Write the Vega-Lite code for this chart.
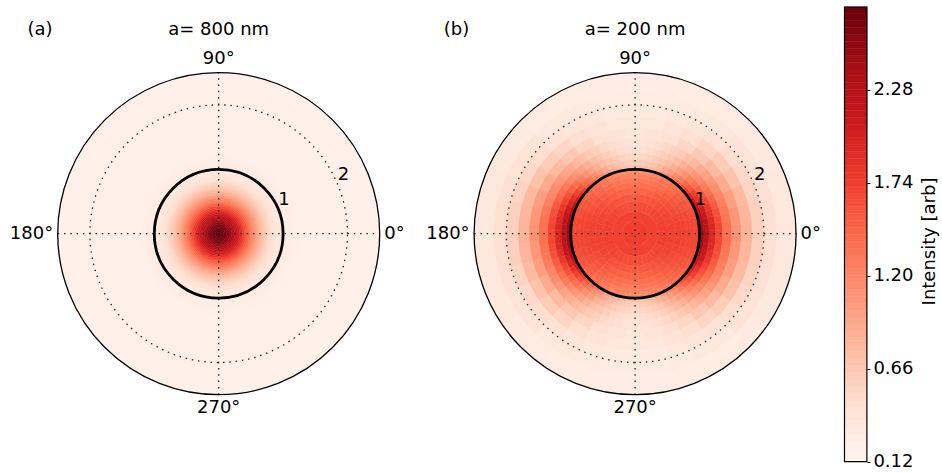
{
"$schema":"https://vega.github.io/schema/vega-lite/v6.json",
"background":"white",
"padding":{"left":9.7,"top":6,"right":0,"bottom":0},
"autosize":{"type":"pad"},
"config":{"font":"DejaVu Sans","view":{"stroke":null},"text":{"fontSize":18,"color":"#000","font":"DejaVu Sans"}},
"spacing":2.4,
"bounds":"flush",
"resolve":{"scale":{"x":"independent","y":"independent","theta":"independent","radius":"independent","color":"independent","stroke":"independent"}},
"datasets":{
"grid":[{"x":-2.5,"y":0,"x2":2.5,"y2":0},{"x":0,"y":-2.5,"x2":0,"y2":2.5}],
"circles":[{"r":1},{"r":2},{"r":2.5}],
"angles":[{"lab":"0°","t":0},{"lab":"90°","t":90},{"lab":"180°","t":180},{"lab":"270°","t":270}],
"rlab":[{"lab":"1","r":1},{"lab":"2","r":2}],
"heads":[{"p":"a","tag":"(a)","title":"a= 800 nm"},{"p":"b","tag":"(b)","title":"a= 200 nm"}],
"cbframe":[{"lo":0.12,"hi":2.76}],
"cb":[{"lo":0.12,"hi":0.16,"m":0.14},{"lo":0.16,"hi":0.2,"m":0.18},{"lo":0.2,"hi":0.24,"m":0.22},{"lo":0.24,"hi":0.28,"m":0.26},{"lo":0.28,"hi":0.32,"m":0.3},{"lo":0.32,"hi":0.36,"m":0.34},{"lo":0.36,"hi":0.4,"m":0.38},{"lo":0.4,"hi":0.44,"m":0.42},{"lo":0.44,"hi":0.48,"m":0.46},{"lo":0.48,"hi":0.52,"m":0.5},{"lo":0.52,"hi":0.56,"m":0.54},{"lo":0.56,"hi":0.6,"m":0.58},{"lo":0.6,"hi":0.64,"m":0.62},{"lo":0.64,"hi":0.68,"m":0.66},{"lo":0.68,"hi":0.72,"m":0.7},{"lo":0.72,"hi":0.76,"m":0.74},{"lo":0.76,"hi":0.8,"m":0.78},{"lo":0.8,"hi":0.84,"m":0.82},{"lo":0.84,"hi":0.88,"m":0.86},{"lo":0.88,"hi":0.92,"m":0.9},{"lo":0.92,"hi":0.96,"m":0.94},{"lo":0.96,"hi":1.0,"m":0.98},{"lo":1.0,"hi":1.04,"m":1.02},{"lo":1.04,"hi":1.08,"m":1.06},{"lo":1.08,"hi":1.12,"m":1.1},{"lo":1.12,"hi":1.16,"m":1.14},{"lo":1.16,"hi":1.2,"m":1.18},{"lo":1.2,"hi":1.24,"m":1.22},{"lo":1.24,"hi":1.28,"m":1.26},{"lo":1.28,"hi":1.32,"m":1.3},{"lo":1.32,"hi":1.36,"m":1.34},{"lo":1.36,"hi":1.4,"m":1.38},{"lo":1.4,"hi":1.44,"m":1.42},{"lo":1.44,"hi":1.48,"m":1.46},{"lo":1.48,"hi":1.52,"m":1.5},{"lo":1.52,"hi":1.56,"m":1.54},{"lo":1.56,"hi":1.6,"m":1.58},{"lo":1.6,"hi":1.64,"m":1.62},{"lo":1.64,"hi":1.68,"m":1.66},{"lo":1.68,"hi":1.72,"m":1.7},{"lo":1.72,"hi":1.76,"m":1.74},{"lo":1.76,"hi":1.8,"m":1.78},{"lo":1.8,"hi":1.84,"m":1.82},{"lo":1.84,"hi":1.88,"m":1.86},{"lo":1.88,"hi":1.92,"m":1.9},{"lo":1.92,"hi":1.96,"m":1.94},{"lo":1.96,"hi":2.0,"m":1.98},{"lo":2.0,"hi":2.04,"m":2.02},{"lo":2.04,"hi":2.08,"m":2.06},{"lo":2.08,"hi":2.12,"m":2.1},{"lo":2.12,"hi":2.16,"m":2.14},{"lo":2.16,"hi":2.2,"m":2.18},{"lo":2.2,"hi":2.24,"m":2.22},{"lo":2.24,"hi":2.28,"m":2.26},{"lo":2.28,"hi":2.32,"m":2.3},{"lo":2.32,"hi":2.36,"m":2.34},{"lo":2.36,"hi":2.4,"m":2.38},{"lo":2.4,"hi":2.44,"m":2.42},{"lo":2.44,"hi":2.48,"m":2.46},{"lo":2.48,"hi":2.52,"m":2.5},{"lo":2.52,"hi":2.56,"m":2.54},{"lo":2.56,"hi":2.6,"m":2.58},{"lo":2.6,"hi":2.64,"m":2.62},{"lo":2.64,"hi":2.68,"m":2.66},{"lo":2.68,"hi":2.72,"m":2.7},{"lo":2.72,"hi":2.76,"m":2.74}],
"pa":[{"a":0,"b":360,"r":0,"s":0.025,"v":2.76},{"a":0,"b":360,"r":0.025,"s":0.05,"v":2.75},{"a":0,"b":360,"r":0.05,"s":0.075,"v":2.73},{"a":0,"b":360,"r":0.075,"s":0.1,"v":2.70},{"a":0,"b":360,"r":0.1,"s":0.125,"v":2.66},{"a":0,"b":360,"r":0.125,"s":0.15,"v":2.60},{"a":0,"b":360,"r":0.15,"s":0.175,"v":2.55},{"a":0,"b":360,"r":0.175,"s":0.2,"v":2.48},{"a":0,"b":360,"r":0.2,"s":0.225,"v":2.40},{"a":0,"b":360,"r":0.225,"s":0.25,"v":2.32},{"a":0,"b":360,"r":0.25,"s":0.275,"v":2.24},{"a":0,"b":360,"r":0.275,"s":0.3,"v":2.15},{"a":0,"b":360,"r":0.3,"s":0.325,"v":2.05},{"a":0,"b":360,"r":0.325,"s":0.35,"v":1.96},{"a":0,"b":360,"r":0.35,"s":0.375,"v":1.86},{"a":0,"b":360,"r":0.375,"s":0.4,"v":1.76},{"a":0,"b":360,"r":0.4,"s":0.425,"v":1.66},{"a":0,"b":360,"r":0.425,"s":0.45,"v":1.56},{"a":0,"b":360,"r":0.45,"s":0.475,"v":1.46},{"a":0,"b":360,"r":0.475,"s":0.5,"v":1.37},{"a":0,"b":360,"r":0.5,"s":0.525,"v":1.27},{"a":0,"b":360,"r":0.525,"s":0.55,"v":1.19},{"a":0,"b":360,"r":0.55,"s":0.575,"v":1.10},{"a":0,"b":360,"r":0.575,"s":0.6,"v":1.02},{"a":0,"b":360,"r":0.6,"s":0.625,"v":0.94},{"a":0,"b":360,"r":0.625,"s":0.65,"v":0.87},{"a":0,"b":360,"r":0.65,"s":0.675,"v":0.80},{"a":0,"b":360,"r":0.675,"s":0.7,"v":0.74},{"a":0,"b":360,"r":0.7,"s":0.725,"v":0.68},{"a":0,"b":360,"r":0.725,"s":0.75,"v":0.62},{"a":0,"b":360,"r":0.75,"s":0.775,"v":0.57},{"a":0,"b":360,"r":0.775,"s":0.8,"v":0.53},{"a":0,"b":360,"r":0.8,"s":0.825,"v":0.49},{"a":0,"b":360,"r":0.825,"s":0.85,"v":0.45},{"a":0,"b":360,"r":0.85,"s":0.875,"v":0.42},{"a":0,"b":360,"r":0.875,"s":0.9,"v":0.39},{"a":0,"b":360,"r":0.9,"s":0.925,"v":0.36},{"a":0,"b":360,"r":0.925,"s":0.95,"v":0.34},{"a":0,"b":360,"r":0.95,"s":0.975,"v":0.32},{"a":0,"b":360,"r":0.975,"s":1.0,"v":0.30},{"a":0,"b":360,"r":1.0,"s":1.05,"v":0.28},{"a":0,"b":360,"r":1.05,"s":1.1,"v":0.26},{"a":0,"b":360,"r":1.1,"s":1.15,"v":0.24},{"a":0,"b":360,"r":1.15,"s":1.2,"v":0.23},{"a":0,"b":360,"r":1.2,"s":1.3,"v":0.21},{"a":0,"b":360,"r":1.3,"s":2.5,"v":0.20}],
"pb":[
{"a":0,"b":360,"r":0,"s":0.2,"v":1.74},{"a":0,"b":360,"r":0.2,"s":0.35,"v":1.72},
{"a":-5,"b":5,"r":0.35,"s":0.5,"v":1.74},{"a":5,"b":15,"r":0.35,"s":0.5,"v":1.74},{"a":15,"b":25,"r":0.35,"s":0.5,"v":1.73},{"a":25,"b":35,"r":0.35,"s":0.5,"v":1.71},{"a":35,"b":45,"r":0.35,"s":0.5,"v":1.70},{"a":45,"b":55,"r":0.35,"s":0.5,"v":1.68},{"a":55,"b":65,"r":0.35,"s":0.5,"v":1.66},{"a":65,"b":75,"r":0.35,"s":0.5,"v":1.64},{"a":75,"b":85,"r":0.35,"s":0.5,"v":1.64},{"a":85,"b":95,"r":0.35,"s":0.5,"v":1.63},{"a":95,"b":105,"r":0.35,"s":0.5,"v":1.64},{"a":105,"b":115,"r":0.35,"s":0.5,"v":1.64},{"a":115,"b":125,"r":0.35,"s":0.5,"v":1.66},{"a":125,"b":135,"r":0.35,"s":0.5,"v":1.68},{"a":135,"b":145,"r":0.35,"s":0.5,"v":1.70},{"a":145,"b":155,"r":0.35,"s":0.5,"v":1.71},{"a":155,"b":165,"r":0.35,"s":0.5,"v":1.73},{"a":165,"b":175,"r":0.35,"s":0.5,"v":1.74},{"a":175,"b":185,"r":0.35,"s":0.5,"v":1.74},{"a":185,"b":195,"r":0.35,"s":0.5,"v":1.74},{"a":195,"b":205,"r":0.35,"s":0.5,"v":1.73},{"a":205,"b":215,"r":0.35,"s":0.5,"v":1.71},{"a":215,"b":225,"r":0.35,"s":0.5,"v":1.70},{"a":225,"b":235,"r":0.35,"s":0.5,"v":1.68},{"a":235,"b":245,"r":0.35,"s":0.5,"v":1.66},{"a":245,"b":255,"r":0.35,"s":0.5,"v":1.64},{"a":255,"b":265,"r":0.35,"s":0.5,"v":1.64},{"a":265,"b":275,"r":0.35,"s":0.5,"v":1.63},{"a":275,"b":285,"r":0.35,"s":0.5,"v":1.64},{"a":285,"b":295,"r":0.35,"s":0.5,"v":1.64},{"a":295,"b":305,"r":0.35,"s":0.5,"v":1.66},{"a":305,"b":315,"r":0.35,"s":0.5,"v":1.68},{"a":315,"b":325,"r":0.35,"s":0.5,"v":1.70},{"a":325,"b":335,"r":0.35,"s":0.5,"v":1.71},{"a":335,"b":345,"r":0.35,"s":0.5,"v":1.73},{"a":345,"b":355,"r":0.35,"s":0.5,"v":1.74},
{"a":-5,"b":5,"r":0.5,"s":0.62,"v":1.73},{"a":5,"b":15,"r":0.5,"s":0.62,"v":1.73},{"a":15,"b":25,"r":0.5,"s":0.62,"v":1.71},{"a":25,"b":35,"r":0.5,"s":0.62,"v":1.69},{"a":35,"b":45,"r":0.5,"s":0.62,"v":1.66},{"a":45,"b":55,"r":0.5,"s":0.62,"v":1.62},{"a":55,"b":65,"r":0.5,"s":0.62,"v":1.59},{"a":65,"b":75,"r":0.5,"s":0.62,"v":1.57},{"a":75,"b":85,"r":0.5,"s":0.62,"v":1.55},{"a":85,"b":95,"r":0.5,"s":0.62,"v":1.55},{"a":95,"b":105,"r":0.5,"s":0.62,"v":1.55},{"a":105,"b":115,"r":0.5,"s":0.62,"v":1.57},{"a":115,"b":125,"r":0.5,"s":0.62,"v":1.59},{"a":125,"b":135,"r":0.5,"s":0.62,"v":1.62},{"a":135,"b":145,"r":0.5,"s":0.62,"v":1.66},{"a":145,"b":155,"r":0.5,"s":0.62,"v":1.69},{"a":155,"b":165,"r":0.5,"s":0.62,"v":1.71},{"a":165,"b":175,"r":0.5,"s":0.62,"v":1.73},{"a":175,"b":185,"r":0.5,"s":0.62,"v":1.73},{"a":185,"b":195,"r":0.5,"s":0.62,"v":1.73},{"a":195,"b":205,"r":0.5,"s":0.62,"v":1.71},{"a":205,"b":215,"r":0.5,"s":0.62,"v":1.69},{"a":215,"b":225,"r":0.5,"s":0.62,"v":1.66},{"a":225,"b":235,"r":0.5,"s":0.62,"v":1.62},{"a":235,"b":245,"r":0.5,"s":0.62,"v":1.59},{"a":245,"b":255,"r":0.5,"s":0.62,"v":1.57},{"a":255,"b":265,"r":0.5,"s":0.62,"v":1.55},{"a":265,"b":275,"r":0.5,"s":0.62,"v":1.55},{"a":275,"b":285,"r":0.5,"s":0.62,"v":1.55},{"a":285,"b":295,"r":0.5,"s":0.62,"v":1.57},{"a":295,"b":305,"r":0.5,"s":0.62,"v":1.59},{"a":305,"b":315,"r":0.5,"s":0.62,"v":1.62},{"a":315,"b":325,"r":0.5,"s":0.62,"v":1.66},{"a":325,"b":335,"r":0.5,"s":0.62,"v":1.69},{"a":335,"b":345,"r":0.5,"s":0.62,"v":1.71},{"a":345,"b":355,"r":0.5,"s":0.62,"v":1.73},
{"a":-5,"b":5,"r":0.62,"s":0.72,"v":1.73},{"a":5,"b":15,"r":0.62,"s":0.72,"v":1.72},{"a":15,"b":25,"r":0.62,"s":0.72,"v":1.70},{"a":25,"b":35,"r":0.62,"s":0.72,"v":1.66},{"a":35,"b":45,"r":0.62,"s":0.72,"v":1.62},{"a":45,"b":55,"r":0.62,"s":0.72,"v":1.57},{"a":55,"b":65,"r":0.62,"s":0.72,"v":1.53},{"a":65,"b":75,"r":0.62,"s":0.72,"v":1.49},{"a":75,"b":85,"r":0.62,"s":0.72,"v":1.47},{"a":85,"b":95,"r":0.62,"s":0.72,"v":1.46},{"a":95,"b":105,"r":0.62,"s":0.72,"v":1.47},{"a":105,"b":115,"r":0.62,"s":0.72,"v":1.49},{"a":115,"b":125,"r":0.62,"s":0.72,"v":1.53},{"a":125,"b":135,"r":0.62,"s":0.72,"v":1.57},{"a":135,"b":145,"r":0.62,"s":0.72,"v":1.62},{"a":145,"b":155,"r":0.62,"s":0.72,"v":1.66},{"a":155,"b":165,"r":0.62,"s":0.72,"v":1.70},{"a":165,"b":175,"r":0.62,"s":0.72,"v":1.72},{"a":175,"b":185,"r":0.62,"s":0.72,"v":1.73},{"a":185,"b":195,"r":0.62,"s":0.72,"v":1.72},{"a":195,"b":205,"r":0.62,"s":0.72,"v":1.70},{"a":205,"b":215,"r":0.62,"s":0.72,"v":1.66},{"a":215,"b":225,"r":0.62,"s":0.72,"v":1.62},{"a":225,"b":235,"r":0.62,"s":0.72,"v":1.57},{"a":235,"b":245,"r":0.62,"s":0.72,"v":1.53},{"a":245,"b":255,"r":0.62,"s":0.72,"v":1.49},{"a":255,"b":265,"r":0.62,"s":0.72,"v":1.47},{"a":265,"b":275,"r":0.62,"s":0.72,"v":1.46},{"a":275,"b":285,"r":0.62,"s":0.72,"v":1.47},{"a":285,"b":295,"r":0.62,"s":0.72,"v":1.49},{"a":295,"b":305,"r":0.62,"s":0.72,"v":1.53},{"a":305,"b":315,"r":0.62,"s":0.72,"v":1.57},{"a":315,"b":325,"r":0.62,"s":0.72,"v":1.62},{"a":325,"b":335,"r":0.62,"s":0.72,"v":1.66},{"a":335,"b":345,"r":0.62,"s":0.72,"v":1.70},{"a":345,"b":355,"r":0.62,"s":0.72,"v":1.72},
{"a":-5,"b":5,"r":0.72,"s":0.8,"v":1.72},{"a":5,"b":15,"r":0.72,"s":0.8,"v":1.71},{"a":15,"b":25,"r":0.72,"s":0.8,"v":1.68},{"a":25,"b":35,"r":0.72,"s":0.8,"v":1.63},{"a":35,"b":45,"r":0.72,"s":0.8,"v":1.58},{"a":45,"b":55,"r":0.72,"s":0.8,"v":1.52},{"a":55,"b":65,"r":0.72,"s":0.8,"v":1.46},{"a":65,"b":75,"r":0.72,"s":0.8,"v":1.41},{"a":75,"b":85,"r":0.72,"s":0.8,"v":1.38},{"a":85,"b":95,"r":0.72,"s":0.8,"v":1.37},{"a":95,"b":105,"r":0.72,"s":0.8,"v":1.38},{"a":105,"b":115,"r":0.72,"s":0.8,"v":1.41},{"a":115,"b":125,"r":0.72,"s":0.8,"v":1.46},{"a":125,"b":135,"r":0.72,"s":0.8,"v":1.52},{"a":135,"b":145,"r":0.72,"s":0.8,"v":1.58},{"a":145,"b":155,"r":0.72,"s":0.8,"v":1.63},{"a":155,"b":165,"r":0.72,"s":0.8,"v":1.68},{"a":165,"b":175,"r":0.72,"s":0.8,"v":1.71},{"a":175,"b":185,"r":0.72,"s":0.8,"v":1.72},{"a":185,"b":195,"r":0.72,"s":0.8,"v":1.71},{"a":195,"b":205,"r":0.72,"s":0.8,"v":1.68},{"a":205,"b":215,"r":0.72,"s":0.8,"v":1.63},{"a":215,"b":225,"r":0.72,"s":0.8,"v":1.58},{"a":225,"b":235,"r":0.72,"s":0.8,"v":1.52},{"a":235,"b":245,"r":0.72,"s":0.8,"v":1.46},{"a":245,"b":255,"r":0.72,"s":0.8,"v":1.41},{"a":255,"b":265,"r":0.72,"s":0.8,"v":1.38},{"a":265,"b":275,"r":0.72,"s":0.8,"v":1.37},{"a":275,"b":285,"r":0.72,"s":0.8,"v":1.38},{"a":285,"b":295,"r":0.72,"s":0.8,"v":1.41},{"a":295,"b":305,"r":0.72,"s":0.8,"v":1.46},{"a":305,"b":315,"r":0.72,"s":0.8,"v":1.52},{"a":315,"b":325,"r":0.72,"s":0.8,"v":1.58},{"a":325,"b":335,"r":0.72,"s":0.8,"v":1.63},{"a":335,"b":345,"r":0.72,"s":0.8,"v":1.68},{"a":345,"b":355,"r":0.72,"s":0.8,"v":1.71},
{"a":-5,"b":5,"r":0.8,"s":0.87,"v":1.72},{"a":5,"b":15,"r":0.8,"s":0.87,"v":1.70},{"a":15,"b":25,"r":0.8,"s":0.87,"v":1.67},{"a":25,"b":35,"r":0.8,"s":0.87,"v":1.61},{"a":35,"b":45,"r":0.8,"s":0.87,"v":1.54},{"a":45,"b":55,"r":0.8,"s":0.87,"v":1.47},{"a":55,"b":65,"r":0.8,"s":0.87,"v":1.40},{"a":65,"b":75,"r":0.8,"s":0.87,"v":1.35},{"a":75,"b":85,"r":0.8,"s":0.87,"v":1.31},{"a":85,"b":95,"r":0.8,"s":0.87,"v":1.30},{"a":95,"b":105,"r":0.8,"s":0.87,"v":1.31},{"a":105,"b":115,"r":0.8,"s":0.87,"v":1.35},{"a":115,"b":125,"r":0.8,"s":0.87,"v":1.40},{"a":125,"b":135,"r":0.8,"s":0.87,"v":1.47},{"a":135,"b":145,"r":0.8,"s":0.87,"v":1.54},{"a":145,"b":155,"r":0.8,"s":0.87,"v":1.61},{"a":155,"b":165,"r":0.8,"s":0.87,"v":1.67},{"a":165,"b":175,"r":0.8,"s":0.87,"v":1.70},{"a":175,"b":185,"r":0.8,"s":0.87,"v":1.72},{"a":185,"b":195,"r":0.8,"s":0.87,"v":1.70},{"a":195,"b":205,"r":0.8,"s":0.87,"v":1.67},{"a":205,"b":215,"r":0.8,"s":0.87,"v":1.61},{"a":215,"b":225,"r":0.8,"s":0.87,"v":1.54},{"a":225,"b":235,"r":0.8,"s":0.87,"v":1.47},{"a":235,"b":245,"r":0.8,"s":0.87,"v":1.40},{"a":245,"b":255,"r":0.8,"s":0.87,"v":1.35},{"a":255,"b":265,"r":0.8,"s":0.87,"v":1.31},{"a":265,"b":275,"r":0.8,"s":0.87,"v":1.30},{"a":275,"b":285,"r":0.8,"s":0.87,"v":1.31},{"a":285,"b":295,"r":0.8,"s":0.87,"v":1.35},{"a":295,"b":305,"r":0.8,"s":0.87,"v":1.40},{"a":305,"b":315,"r":0.8,"s":0.87,"v":1.47},{"a":315,"b":325,"r":0.8,"s":0.87,"v":1.54},{"a":325,"b":335,"r":0.8,"s":0.87,"v":1.61},{"a":335,"b":345,"r":0.8,"s":0.87,"v":1.67},{"a":345,"b":355,"r":0.8,"s":0.87,"v":1.70},
{"a":-5,"b":5,"r":0.87,"s":0.93,"v":1.71},{"a":5,"b":15,"r":0.87,"s":0.93,"v":1.70},{"a":15,"b":25,"r":0.87,"s":0.93,"v":1.65},{"a":25,"b":35,"r":0.87,"s":0.93,"v":1.59},{"a":35,"b":45,"r":0.87,"s":0.93,"v":1.51},{"a":45,"b":55,"r":0.87,"s":0.93,"v":1.43},{"a":55,"b":65,"r":0.87,"s":0.93,"v":1.35},{"a":65,"b":75,"r":0.87,"s":0.93,"v":1.28},{"a":75,"b":85,"r":0.87,"s":0.93,"v":1.24},{"a":85,"b":95,"r":0.87,"s":0.93,"v":1.22},{"a":95,"b":105,"r":0.87,"s":0.93,"v":1.24},{"a":105,"b":115,"r":0.87,"s":0.93,"v":1.28},{"a":115,"b":125,"r":0.87,"s":0.93,"v":1.35},{"a":125,"b":135,"r":0.87,"s":0.93,"v":1.43},{"a":135,"b":145,"r":0.87,"s":0.93,"v":1.51},{"a":145,"b":155,"r":0.87,"s":0.93,"v":1.59},{"a":155,"b":165,"r":0.87,"s":0.93,"v":1.65},{"a":165,"b":175,"r":0.87,"s":0.93,"v":1.70},{"a":175,"b":185,"r":0.87,"s":0.93,"v":1.71},{"a":185,"b":195,"r":0.87,"s":0.93,"v":1.70},{"a":195,"b":205,"r":0.87,"s":0.93,"v":1.65},{"a":205,"b":215,"r":0.87,"s":0.93,"v":1.59},{"a":215,"b":225,"r":0.87,"s":0.93,"v":1.51},{"a":225,"b":235,"r":0.87,"s":0.93,"v":1.43},{"a":235,"b":245,"r":0.87,"s":0.93,"v":1.35},{"a":245,"b":255,"r":0.87,"s":0.93,"v":1.28},{"a":255,"b":265,"r":0.87,"s":0.93,"v":1.24},{"a":265,"b":275,"r":0.87,"s":0.93,"v":1.22},{"a":275,"b":285,"r":0.87,"s":0.93,"v":1.24},{"a":285,"b":295,"r":0.87,"s":0.93,"v":1.28},{"a":295,"b":305,"r":0.87,"s":0.93,"v":1.35},{"a":305,"b":315,"r":0.87,"s":0.93,"v":1.43},{"a":315,"b":325,"r":0.87,"s":0.93,"v":1.51},{"a":325,"b":335,"r":0.87,"s":0.93,"v":1.59},{"a":335,"b":345,"r":0.87,"s":0.93,"v":1.65},{"a":345,"b":355,"r":0.87,"s":0.93,"v":1.70},
{"a":-5,"b":5,"r":0.93,"s":1.0,"v":1.70},{"a":5,"b":15,"r":0.93,"s":1.0,"v":1.69},{"a":15,"b":25,"r":0.93,"s":1.0,"v":1.64},{"a":25,"b":35,"r":0.93,"s":1.0,"v":1.56},{"a":35,"b":45,"r":0.93,"s":1.0,"v":1.47},{"a":45,"b":55,"r":0.93,"s":1.0,"v":1.38},{"a":55,"b":65,"r":0.93,"s":1.0,"v":1.29},{"a":65,"b":75,"r":0.93,"s":1.0,"v":1.21},{"a":75,"b":85,"r":0.93,"s":1.0,"v":1.16},{"a":85,"b":95,"r":0.93,"s":1.0,"v":1.15},{"a":95,"b":105,"r":0.93,"s":1.0,"v":1.16},{"a":105,"b":115,"r":0.93,"s":1.0,"v":1.21},{"a":115,"b":125,"r":0.93,"s":1.0,"v":1.29},{"a":125,"b":135,"r":0.93,"s":1.0,"v":1.38},{"a":135,"b":145,"r":0.93,"s":1.0,"v":1.47},{"a":145,"b":155,"r":0.93,"s":1.0,"v":1.56},{"a":155,"b":165,"r":0.93,"s":1.0,"v":1.64},{"a":165,"b":175,"r":0.93,"s":1.0,"v":1.69},{"a":175,"b":185,"r":0.93,"s":1.0,"v":1.70},{"a":185,"b":195,"r":0.93,"s":1.0,"v":1.69},{"a":195,"b":205,"r":0.93,"s":1.0,"v":1.64},{"a":205,"b":215,"r":0.93,"s":1.0,"v":1.56},{"a":215,"b":225,"r":0.93,"s":1.0,"v":1.47},{"a":225,"b":235,"r":0.93,"s":1.0,"v":1.38},{"a":235,"b":245,"r":0.93,"s":1.0,"v":1.29},{"a":245,"b":255,"r":0.93,"s":1.0,"v":1.21},{"a":255,"b":265,"r":0.93,"s":1.0,"v":1.16},{"a":265,"b":275,"r":0.93,"s":1.0,"v":1.15},{"a":275,"b":285,"r":0.93,"s":1.0,"v":1.16},{"a":285,"b":295,"r":0.93,"s":1.0,"v":1.21},{"a":295,"b":305,"r":0.93,"s":1.0,"v":1.29},{"a":305,"b":315,"r":0.93,"s":1.0,"v":1.38},{"a":315,"b":325,"r":0.93,"s":1.0,"v":1.47},{"a":325,"b":335,"r":0.93,"s":1.0,"v":1.56},{"a":335,"b":345,"r":0.93,"s":1.0,"v":1.64},{"a":345,"b":355,"r":0.93,"s":1.0,"v":1.69},
{"a":-2.5,"b":2.5,"r":1.0,"s":1.07,"v":2.51},{"a":2.5,"b":7.5,"r":1.0,"s":1.07,"v":2.50},{"a":7.5,"b":12.5,"r":1.0,"s":1.07,"v":2.46},{"a":12.5,"b":17.5,"r":1.0,"s":1.07,"v":2.39},{"a":17.5,"b":22.5,"r":1.0,"s":1.07,"v":2.30},{"a":22.5,"b":27.5,"r":1.0,"s":1.07,"v":2.18},{"a":27.5,"b":32.5,"r":1.0,"s":1.07,"v":2.06},{"a":32.5,"b":37.5,"r":1.0,"s":1.07,"v":1.91},{"a":37.5,"b":42.5,"r":1.0,"s":1.07,"v":1.76},{"a":42.5,"b":47.5,"r":1.0,"s":1.07,"v":1.60},{"a":47.5,"b":52.5,"r":1.0,"s":1.07,"v":1.44},{"a":52.5,"b":57.5,"r":1.0,"s":1.07,"v":1.29},{"a":57.5,"b":62.5,"r":1.0,"s":1.07,"v":1.15},{"a":62.5,"b":67.5,"r":1.0,"s":1.07,"v":1.02},{"a":67.5,"b":72.5,"r":1.0,"s":1.07,"v":0.90},{"a":72.5,"b":77.5,"r":1.0,"s":1.07,"v":0.81},{"a":77.5,"b":82.5,"r":1.0,"s":1.07,"v":0.75},{"a":82.5,"b":87.5,"r":1.0,"s":1.07,"v":0.70},{"a":87.5,"b":92.5,"r":1.0,"s":1.07,"v":0.69},{"a":92.5,"b":97.5,"r":1.0,"s":1.07,"v":0.70},{"a":97.5,"b":102.5,"r":1.0,"s":1.07,"v":0.75},{"a":102.5,"b":107.5,"r":1.0,"s":1.07,"v":0.81},{"a":107.5,"b":112.5,"r":1.0,"s":1.07,"v":0.90},{"a":112.5,"b":117.5,"r":1.0,"s":1.07,"v":1.02},{"a":117.5,"b":122.5,"r":1.0,"s":1.07,"v":1.15},{"a":122.5,"b":127.5,"r":1.0,"s":1.07,"v":1.29},{"a":127.5,"b":132.5,"r":1.0,"s":1.07,"v":1.44},{"a":132.5,"b":137.5,"r":1.0,"s":1.07,"v":1.60},{"a":137.5,"b":142.5,"r":1.0,"s":1.07,"v":1.76},{"a":142.5,"b":147.5,"r":1.0,"s":1.07,"v":1.91},{"a":147.5,"b":152.5,"r":1.0,"s":1.07,"v":2.06},{"a":152.5,"b":157.5,"r":1.0,"s":1.07,"v":2.18},{"a":157.5,"b":162.5,"r":1.0,"s":1.07,"v":2.30},{"a":162.5,"b":167.5,"r":1.0,"s":1.07,"v":2.39},{"a":167.5,"b":172.5,"r":1.0,"s":1.07,"v":2.46},{"a":172.5,"b":177.5,"r":1.0,"s":1.07,"v":2.50},{"a":177.5,"b":182.5,"r":1.0,"s":1.07,"v":2.51},{"a":182.5,"b":187.5,"r":1.0,"s":1.07,"v":2.50},{"a":187.5,"b":192.5,"r":1.0,"s":1.07,"v":2.46},{"a":192.5,"b":197.5,"r":1.0,"s":1.07,"v":2.39},{"a":197.5,"b":202.5,"r":1.0,"s":1.07,"v":2.30},{"a":202.5,"b":207.5,"r":1.0,"s":1.07,"v":2.18},{"a":207.5,"b":212.5,"r":1.0,"s":1.07,"v":2.06},{"a":212.5,"b":217.5,"r":1.0,"s":1.07,"v":1.91},{"a":217.5,"b":222.5,"r":1.0,"s":1.07,"v":1.76},{"a":222.5,"b":227.5,"r":1.0,"s":1.07,"v":1.60},{"a":227.5,"b":232.5,"r":1.0,"s":1.07,"v":1.44},{"a":232.5,"b":237.5,"r":1.0,"s":1.07,"v":1.29},{"a":237.5,"b":242.5,"r":1.0,"s":1.07,"v":1.15},{"a":242.5,"b":247.5,"r":1.0,"s":1.07,"v":1.02},{"a":247.5,"b":252.5,"r":1.0,"s":1.07,"v":0.90},{"a":252.5,"b":257.5,"r":1.0,"s":1.07,"v":0.81},{"a":257.5,"b":262.5,"r":1.0,"s":1.07,"v":0.75},{"a":262.5,"b":267.5,"r":1.0,"s":1.07,"v":0.70},{"a":267.5,"b":272.5,"r":1.0,"s":1.07,"v":0.69},{"a":272.5,"b":277.5,"r":1.0,"s":1.07,"v":0.70},{"a":277.5,"b":282.5,"r":1.0,"s":1.07,"v":0.75},{"a":282.5,"b":287.5,"r":1.0,"s":1.07,"v":0.81},{"a":287.5,"b":292.5,"r":1.0,"s":1.07,"v":0.90},{"a":292.5,"b":297.5,"r":1.0,"s":1.07,"v":1.02},{"a":297.5,"b":302.5,"r":1.0,"s":1.07,"v":1.15},{"a":302.5,"b":307.5,"r":1.0,"s":1.07,"v":1.29},{"a":307.5,"b":312.5,"r":1.0,"s":1.07,"v":1.44},{"a":312.5,"b":317.5,"r":1.0,"s":1.07,"v":1.60},{"a":317.5,"b":322.5,"r":1.0,"s":1.07,"v":1.76},{"a":322.5,"b":327.5,"r":1.0,"s":1.07,"v":1.91},{"a":327.5,"b":332.5,"r":1.0,"s":1.07,"v":2.06},{"a":332.5,"b":337.5,"r":1.0,"s":1.07,"v":2.18},{"a":337.5,"b":342.5,"r":1.0,"s":1.07,"v":2.30},{"a":342.5,"b":347.5,"r":1.0,"s":1.07,"v":2.39},{"a":347.5,"b":352.5,"r":1.0,"s":1.07,"v":2.46},{"a":352.5,"b":357.5,"r":1.0,"s":1.07,"v":2.50},
{"a":-2.5,"b":2.5,"r":1.07,"s":1.15,"v":2.26},{"a":2.5,"b":7.5,"r":1.07,"s":1.15,"v":2.25},{"a":7.5,"b":12.5,"r":1.07,"s":1.15,"v":2.21},{"a":12.5,"b":17.5,"r":1.07,"s":1.15,"v":2.15},{"a":17.5,"b":22.5,"r":1.07,"s":1.15,"v":2.07},{"a":22.5,"b":27.5,"r":1.07,"s":1.15,"v":1.97},{"a":27.5,"b":32.5,"r":1.07,"s":1.15,"v":1.85},{"a":32.5,"b":37.5,"r":1.07,"s":1.15,"v":1.72},{"a":37.5,"b":42.5,"r":1.07,"s":1.15,"v":1.58},{"a":42.5,"b":47.5,"r":1.07,"s":1.15,"v":1.44},{"a":47.5,"b":52.5,"r":1.07,"s":1.15,"v":1.29},{"a":52.5,"b":57.5,"r":1.07,"s":1.15,"v":1.15},{"a":57.5,"b":62.5,"r":1.07,"s":1.15,"v":1.02},{"a":62.5,"b":67.5,"r":1.07,"s":1.15,"v":0.90},{"a":67.5,"b":72.5,"r":1.07,"s":1.15,"v":0.80},{"a":72.5,"b":77.5,"r":1.07,"s":1.15,"v":0.72},{"a":77.5,"b":82.5,"r":1.07,"s":1.15,"v":0.66},{"a":82.5,"b":87.5,"r":1.07,"s":1.15,"v":0.62},{"a":87.5,"b":92.5,"r":1.07,"s":1.15,"v":0.61},{"a":92.5,"b":97.5,"r":1.07,"s":1.15,"v":0.62},{"a":97.5,"b":102.5,"r":1.07,"s":1.15,"v":0.66},{"a":102.5,"b":107.5,"r":1.07,"s":1.15,"v":0.72},{"a":107.5,"b":112.5,"r":1.07,"s":1.15,"v":0.80},{"a":112.5,"b":117.5,"r":1.07,"s":1.15,"v":0.90},{"a":117.5,"b":122.5,"r":1.07,"s":1.15,"v":1.02},{"a":122.5,"b":127.5,"r":1.07,"s":1.15,"v":1.15},{"a":127.5,"b":132.5,"r":1.07,"s":1.15,"v":1.29},{"a":132.5,"b":137.5,"r":1.07,"s":1.15,"v":1.44},{"a":137.5,"b":142.5,"r":1.07,"s":1.15,"v":1.58},{"a":142.5,"b":147.5,"r":1.07,"s":1.15,"v":1.72},{"a":147.5,"b":152.5,"r":1.07,"s":1.15,"v":1.85},{"a":152.5,"b":157.5,"r":1.07,"s":1.15,"v":1.97},{"a":157.5,"b":162.5,"r":1.07,"s":1.15,"v":2.07},{"a":162.5,"b":167.5,"r":1.07,"s":1.15,"v":2.15},{"a":167.5,"b":172.5,"r":1.07,"s":1.15,"v":2.21},{"a":172.5,"b":177.5,"r":1.07,"s":1.15,"v":2.25},{"a":177.5,"b":182.5,"r":1.07,"s":1.15,"v":2.26},{"a":182.5,"b":187.5,"r":1.07,"s":1.15,"v":2.25},{"a":187.5,"b":192.5,"r":1.07,"s":1.15,"v":2.21},{"a":192.5,"b":197.5,"r":1.07,"s":1.15,"v":2.15},{"a":197.5,"b":202.5,"r":1.07,"s":1.15,"v":2.07},{"a":202.5,"b":207.5,"r":1.07,"s":1.15,"v":1.97},{"a":207.5,"b":212.5,"r":1.07,"s":1.15,"v":1.85},{"a":212.5,"b":217.5,"r":1.07,"s":1.15,"v":1.72},{"a":217.5,"b":222.5,"r":1.07,"s":1.15,"v":1.58},{"a":222.5,"b":227.5,"r":1.07,"s":1.15,"v":1.44},{"a":227.5,"b":232.5,"r":1.07,"s":1.15,"v":1.29},{"a":232.5,"b":237.5,"r":1.07,"s":1.15,"v":1.15},{"a":237.5,"b":242.5,"r":1.07,"s":1.15,"v":1.02},{"a":242.5,"b":247.5,"r":1.07,"s":1.15,"v":0.90},{"a":247.5,"b":252.5,"r":1.07,"s":1.15,"v":0.80},{"a":252.5,"b":257.5,"r":1.07,"s":1.15,"v":0.72},{"a":257.5,"b":262.5,"r":1.07,"s":1.15,"v":0.66},{"a":262.5,"b":267.5,"r":1.07,"s":1.15,"v":0.62},{"a":267.5,"b":272.5,"r":1.07,"s":1.15,"v":0.61},{"a":272.5,"b":277.5,"r":1.07,"s":1.15,"v":0.62},{"a":277.5,"b":282.5,"r":1.07,"s":1.15,"v":0.66},{"a":282.5,"b":287.5,"r":1.07,"s":1.15,"v":0.72},{"a":287.5,"b":292.5,"r":1.07,"s":1.15,"v":0.80},{"a":292.5,"b":297.5,"r":1.07,"s":1.15,"v":0.90},{"a":297.5,"b":302.5,"r":1.07,"s":1.15,"v":1.02},{"a":302.5,"b":307.5,"r":1.07,"s":1.15,"v":1.15},{"a":307.5,"b":312.5,"r":1.07,"s":1.15,"v":1.29},{"a":312.5,"b":317.5,"r":1.07,"s":1.15,"v":1.44},{"a":317.5,"b":322.5,"r":1.07,"s":1.15,"v":1.58},{"a":322.5,"b":327.5,"r":1.07,"s":1.15,"v":1.72},{"a":327.5,"b":332.5,"r":1.07,"s":1.15,"v":1.85},{"a":332.5,"b":337.5,"r":1.07,"s":1.15,"v":1.97},{"a":337.5,"b":342.5,"r":1.07,"s":1.15,"v":2.07},{"a":342.5,"b":347.5,"r":1.07,"s":1.15,"v":2.15},{"a":347.5,"b":352.5,"r":1.07,"s":1.15,"v":2.21},{"a":352.5,"b":357.5,"r":1.07,"s":1.15,"v":2.25},
{"a":-2.5,"b":2.5,"r":1.15,"s":1.25,"v":1.97},{"a":2.5,"b":7.5,"r":1.15,"s":1.25,"v":1.96},{"a":7.5,"b":12.5,"r":1.15,"s":1.25,"v":1.93},{"a":12.5,"b":17.5,"r":1.15,"s":1.25,"v":1.87},{"a":17.5,"b":22.5,"r":1.15,"s":1.25,"v":1.80},{"a":22.5,"b":27.5,"r":1.15,"s":1.25,"v":1.71},{"a":27.5,"b":32.5,"r":1.15,"s":1.25,"v":1.61},{"a":32.5,"b":37.5,"r":1.15,"s":1.25,"v":1.49},{"a":37.5,"b":42.5,"r":1.15,"s":1.25,"v":1.37},{"a":42.5,"b":47.5,"r":1.15,"s":1.25,"v":1.25},{"a":47.5,"b":52.5,"r":1.15,"s":1.25,"v":1.12},{"a":52.5,"b":57.5,"r":1.15,"s":1.25,"v":1.00},{"a":57.5,"b":62.5,"r":1.15,"s":1.25,"v":0.88},{"a":62.5,"b":67.5,"r":1.15,"s":1.25,"v":0.78},{"a":67.5,"b":72.5,"r":1.15,"s":1.25,"v":0.69},{"a":72.5,"b":77.5,"r":1.15,"s":1.25,"v":0.62},{"a":77.5,"b":82.5,"r":1.15,"s":1.25,"v":0.56},{"a":82.5,"b":87.5,"r":1.15,"s":1.25,"v":0.53},{"a":87.5,"b":92.5,"r":1.15,"s":1.25,"v":0.52},{"a":92.5,"b":97.5,"r":1.15,"s":1.25,"v":0.53},{"a":97.5,"b":102.5,"r":1.15,"s":1.25,"v":0.56},{"a":102.5,"b":107.5,"r":1.15,"s":1.25,"v":0.62},{"a":107.5,"b":112.5,"r":1.15,"s":1.25,"v":0.69},{"a":112.5,"b":117.5,"r":1.15,"s":1.25,"v":0.78},{"a":117.5,"b":122.5,"r":1.15,"s":1.25,"v":0.88},{"a":122.5,"b":127.5,"r":1.15,"s":1.25,"v":1.00},{"a":127.5,"b":132.5,"r":1.15,"s":1.25,"v":1.12},{"a":132.5,"b":137.5,"r":1.15,"s":1.25,"v":1.25},{"a":137.5,"b":142.5,"r":1.15,"s":1.25,"v":1.37},{"a":142.5,"b":147.5,"r":1.15,"s":1.25,"v":1.49},{"a":147.5,"b":152.5,"r":1.15,"s":1.25,"v":1.61},{"a":152.5,"b":157.5,"r":1.15,"s":1.25,"v":1.71},{"a":157.5,"b":162.5,"r":1.15,"s":1.25,"v":1.80},{"a":162.5,"b":167.5,"r":1.15,"s":1.25,"v":1.87},{"a":167.5,"b":172.5,"r":1.15,"s":1.25,"v":1.93},{"a":172.5,"b":177.5,"r":1.15,"s":1.25,"v":1.96},{"a":177.5,"b":182.5,"r":1.15,"s":1.25,"v":1.97},{"a":182.5,"b":187.5,"r":1.15,"s":1.25,"v":1.96},{"a":187.5,"b":192.5,"r":1.15,"s":1.25,"v":1.93},{"a":192.5,"b":197.5,"r":1.15,"s":1.25,"v":1.87},{"a":197.5,"b":202.5,"r":1.15,"s":1.25,"v":1.80},{"a":202.5,"b":207.5,"r":1.15,"s":1.25,"v":1.71},{"a":207.5,"b":212.5,"r":1.15,"s":1.25,"v":1.61},{"a":212.5,"b":217.5,"r":1.15,"s":1.25,"v":1.49},{"a":217.5,"b":222.5,"r":1.15,"s":1.25,"v":1.37},{"a":222.5,"b":227.5,"r":1.15,"s":1.25,"v":1.25},{"a":227.5,"b":232.5,"r":1.15,"s":1.25,"v":1.12},{"a":232.5,"b":237.5,"r":1.15,"s":1.25,"v":1.00},{"a":237.5,"b":242.5,"r":1.15,"s":1.25,"v":0.88},{"a":242.5,"b":247.5,"r":1.15,"s":1.25,"v":0.78},{"a":247.5,"b":252.5,"r":1.15,"s":1.25,"v":0.69},{"a":252.5,"b":257.5,"r":1.15,"s":1.25,"v":0.62},{"a":257.5,"b":262.5,"r":1.15,"s":1.25,"v":0.56},{"a":262.5,"b":267.5,"r":1.15,"s":1.25,"v":0.53},{"a":267.5,"b":272.5,"r":1.15,"s":1.25,"v":0.52},{"a":272.5,"b":277.5,"r":1.15,"s":1.25,"v":0.53},{"a":277.5,"b":282.5,"r":1.15,"s":1.25,"v":0.56},{"a":282.5,"b":287.5,"r":1.15,"s":1.25,"v":0.62},{"a":287.5,"b":292.5,"r":1.15,"s":1.25,"v":0.69},{"a":292.5,"b":297.5,"r":1.15,"s":1.25,"v":0.78},{"a":297.5,"b":302.5,"r":1.15,"s":1.25,"v":0.88},{"a":302.5,"b":307.5,"r":1.15,"s":1.25,"v":1.00},{"a":307.5,"b":312.5,"r":1.15,"s":1.25,"v":1.12},{"a":312.5,"b":317.5,"r":1.15,"s":1.25,"v":1.25},{"a":317.5,"b":322.5,"r":1.15,"s":1.25,"v":1.37},{"a":322.5,"b":327.5,"r":1.15,"s":1.25,"v":1.49},{"a":327.5,"b":332.5,"r":1.15,"s":1.25,"v":1.61},{"a":332.5,"b":337.5,"r":1.15,"s":1.25,"v":1.71},{"a":337.5,"b":342.5,"r":1.15,"s":1.25,"v":1.80},{"a":342.5,"b":347.5,"r":1.15,"s":1.25,"v":1.87},{"a":347.5,"b":352.5,"r":1.15,"s":1.25,"v":1.93},{"a":352.5,"b":357.5,"r":1.15,"s":1.25,"v":1.96},
{"a":-2.5,"b":2.5,"r":1.25,"s":1.36,"v":1.70},{"a":2.5,"b":7.5,"r":1.25,"s":1.36,"v":1.69},{"a":7.5,"b":12.5,"r":1.25,"s":1.36,"v":1.66},{"a":12.5,"b":17.5,"r":1.25,"s":1.36,"v":1.62},{"a":17.5,"b":22.5,"r":1.25,"s":1.36,"v":1.55},{"a":22.5,"b":27.5,"r":1.25,"s":1.36,"v":1.48},{"a":27.5,"b":32.5,"r":1.25,"s":1.36,"v":1.39},{"a":32.5,"b":37.5,"r":1.25,"s":1.36,"v":1.29},{"a":37.5,"b":42.5,"r":1.25,"s":1.36,"v":1.18},{"a":42.5,"b":47.5,"r":1.25,"s":1.36,"v":1.08},{"a":47.5,"b":52.5,"r":1.25,"s":1.36,"v":0.97},{"a":52.5,"b":57.5,"r":1.25,"s":1.36,"v":0.86},{"a":57.5,"b":62.5,"r":1.25,"s":1.36,"v":0.76},{"a":62.5,"b":67.5,"r":1.25,"s":1.36,"v":0.67},{"a":67.5,"b":72.5,"r":1.25,"s":1.36,"v":0.60},{"a":72.5,"b":77.5,"r":1.25,"s":1.36,"v":0.53},{"a":77.5,"b":82.5,"r":1.25,"s":1.36,"v":0.49},{"a":82.5,"b":87.5,"r":1.25,"s":1.36,"v":0.46},{"a":87.5,"b":92.5,"r":1.25,"s":1.36,"v":0.45},{"a":92.5,"b":97.5,"r":1.25,"s":1.36,"v":0.46},{"a":97.5,"b":102.5,"r":1.25,"s":1.36,"v":0.49},{"a":102.5,"b":107.5,"r":1.25,"s":1.36,"v":0.53},{"a":107.5,"b":112.5,"r":1.25,"s":1.36,"v":0.60},{"a":112.5,"b":117.5,"r":1.25,"s":1.36,"v":0.67},{"a":117.5,"b":122.5,"r":1.25,"s":1.36,"v":0.76},{"a":122.5,"b":127.5,"r":1.25,"s":1.36,"v":0.86},{"a":127.5,"b":132.5,"r":1.25,"s":1.36,"v":0.97},{"a":132.5,"b":137.5,"r":1.25,"s":1.36,"v":1.08},{"a":137.5,"b":142.5,"r":1.25,"s":1.36,"v":1.18},{"a":142.5,"b":147.5,"r":1.25,"s":1.36,"v":1.29},{"a":147.5,"b":152.5,"r":1.25,"s":1.36,"v":1.39},{"a":152.5,"b":157.5,"r":1.25,"s":1.36,"v":1.48},{"a":157.5,"b":162.5,"r":1.25,"s":1.36,"v":1.55},{"a":162.5,"b":167.5,"r":1.25,"s":1.36,"v":1.62},{"a":167.5,"b":172.5,"r":1.25,"s":1.36,"v":1.66},{"a":172.5,"b":177.5,"r":1.25,"s":1.36,"v":1.69},{"a":177.5,"b":182.5,"r":1.25,"s":1.36,"v":1.70},{"a":182.5,"b":187.5,"r":1.25,"s":1.36,"v":1.69},{"a":187.5,"b":192.5,"r":1.25,"s":1.36,"v":1.66},{"a":192.5,"b":197.5,"r":1.25,"s":1.36,"v":1.62},{"a":197.5,"b":202.5,"r":1.25,"s":1.36,"v":1.55},{"a":202.5,"b":207.5,"r":1.25,"s":1.36,"v":1.48},{"a":207.5,"b":212.5,"r":1.25,"s":1.36,"v":1.39},{"a":212.5,"b":217.5,"r":1.25,"s":1.36,"v":1.29},{"a":217.5,"b":222.5,"r":1.25,"s":1.36,"v":1.18},{"a":222.5,"b":227.5,"r":1.25,"s":1.36,"v":1.08},{"a":227.5,"b":232.5,"r":1.25,"s":1.36,"v":0.97},{"a":232.5,"b":237.5,"r":1.25,"s":1.36,"v":0.86},{"a":237.5,"b":242.5,"r":1.25,"s":1.36,"v":0.76},{"a":242.5,"b":247.5,"r":1.25,"s":1.36,"v":0.67},{"a":247.5,"b":252.5,"r":1.25,"s":1.36,"v":0.60},{"a":252.5,"b":257.5,"r":1.25,"s":1.36,"v":0.53},{"a":257.5,"b":262.5,"r":1.25,"s":1.36,"v":0.49},{"a":262.5,"b":267.5,"r":1.25,"s":1.36,"v":0.46},{"a":267.5,"b":272.5,"r":1.25,"s":1.36,"v":0.45},{"a":272.5,"b":277.5,"r":1.25,"s":1.36,"v":0.46},{"a":277.5,"b":282.5,"r":1.25,"s":1.36,"v":0.49},{"a":282.5,"b":287.5,"r":1.25,"s":1.36,"v":0.53},{"a":287.5,"b":292.5,"r":1.25,"s":1.36,"v":0.60},{"a":292.5,"b":297.5,"r":1.25,"s":1.36,"v":0.67},{"a":297.5,"b":302.5,"r":1.25,"s":1.36,"v":0.76},{"a":302.5,"b":307.5,"r":1.25,"s":1.36,"v":0.86},{"a":307.5,"b":312.5,"r":1.25,"s":1.36,"v":0.97},{"a":312.5,"b":317.5,"r":1.25,"s":1.36,"v":1.08},{"a":317.5,"b":322.5,"r":1.25,"s":1.36,"v":1.18},{"a":322.5,"b":327.5,"r":1.25,"s":1.36,"v":1.29},{"a":327.5,"b":332.5,"r":1.25,"s":1.36,"v":1.39},{"a":332.5,"b":337.5,"r":1.25,"s":1.36,"v":1.48},{"a":337.5,"b":342.5,"r":1.25,"s":1.36,"v":1.55},{"a":342.5,"b":347.5,"r":1.25,"s":1.36,"v":1.62},{"a":347.5,"b":352.5,"r":1.25,"s":1.36,"v":1.66},{"a":352.5,"b":357.5,"r":1.25,"s":1.36,"v":1.69},
{"a":-2.5,"b":2.5,"r":1.36,"s":1.5,"v":1.39},{"a":2.5,"b":7.5,"r":1.36,"s":1.5,"v":1.38},{"a":7.5,"b":12.5,"r":1.36,"s":1.5,"v":1.36},{"a":12.5,"b":17.5,"r":1.36,"s":1.5,"v":1.32},{"a":17.5,"b":22.5,"r":1.36,"s":1.5,"v":1.27},{"a":22.5,"b":27.5,"r":1.36,"s":1.5,"v":1.21},{"a":27.5,"b":32.5,"r":1.36,"s":1.5,"v":1.14},{"a":32.5,"b":37.5,"r":1.36,"s":1.5,"v":1.06},{"a":37.5,"b":42.5,"r":1.36,"s":1.5,"v":0.98},{"a":42.5,"b":47.5,"r":1.36,"s":1.5,"v":0.90},{"a":47.5,"b":52.5,"r":1.36,"s":1.5,"v":0.81},{"a":52.5,"b":57.5,"r":1.36,"s":1.5,"v":0.73},{"a":57.5,"b":62.5,"r":1.36,"s":1.5,"v":0.65},{"a":62.5,"b":67.5,"r":1.36,"s":1.5,"v":0.58},{"a":67.5,"b":72.5,"r":1.36,"s":1.5,"v":0.52},{"a":72.5,"b":77.5,"r":1.36,"s":1.5,"v":0.47},{"a":77.5,"b":82.5,"r":1.36,"s":1.5,"v":0.43},{"a":82.5,"b":87.5,"r":1.36,"s":1.5,"v":0.41},{"a":87.5,"b":92.5,"r":1.36,"s":1.5,"v":0.40},{"a":92.5,"b":97.5,"r":1.36,"s":1.5,"v":0.41},{"a":97.5,"b":102.5,"r":1.36,"s":1.5,"v":0.43},{"a":102.5,"b":107.5,"r":1.36,"s":1.5,"v":0.47},{"a":107.5,"b":112.5,"r":1.36,"s":1.5,"v":0.52},{"a":112.5,"b":117.5,"r":1.36,"s":1.5,"v":0.58},{"a":117.5,"b":122.5,"r":1.36,"s":1.5,"v":0.65},{"a":122.5,"b":127.5,"r":1.36,"s":1.5,"v":0.73},{"a":127.5,"b":132.5,"r":1.36,"s":1.5,"v":0.81},{"a":132.5,"b":137.5,"r":1.36,"s":1.5,"v":0.90},{"a":137.5,"b":142.5,"r":1.36,"s":1.5,"v":0.98},{"a":142.5,"b":147.5,"r":1.36,"s":1.5,"v":1.06},{"a":147.5,"b":152.5,"r":1.36,"s":1.5,"v":1.14},{"a":152.5,"b":157.5,"r":1.36,"s":1.5,"v":1.21},{"a":157.5,"b":162.5,"r":1.36,"s":1.5,"v":1.27},{"a":162.5,"b":167.5,"r":1.36,"s":1.5,"v":1.32},{"a":167.5,"b":172.5,"r":1.36,"s":1.5,"v":1.36},{"a":172.5,"b":177.5,"r":1.36,"s":1.5,"v":1.38},{"a":177.5,"b":182.5,"r":1.36,"s":1.5,"v":1.39},{"a":182.5,"b":187.5,"r":1.36,"s":1.5,"v":1.38},{"a":187.5,"b":192.5,"r":1.36,"s":1.5,"v":1.36},{"a":192.5,"b":197.5,"r":1.36,"s":1.5,"v":1.32},{"a":197.5,"b":202.5,"r":1.36,"s":1.5,"v":1.27},{"a":202.5,"b":207.5,"r":1.36,"s":1.5,"v":1.21},{"a":207.5,"b":212.5,"r":1.36,"s":1.5,"v":1.14},{"a":212.5,"b":217.5,"r":1.36,"s":1.5,"v":1.06},{"a":217.5,"b":222.5,"r":1.36,"s":1.5,"v":0.98},{"a":222.5,"b":227.5,"r":1.36,"s":1.5,"v":0.90},{"a":227.5,"b":232.5,"r":1.36,"s":1.5,"v":0.81},{"a":232.5,"b":237.5,"r":1.36,"s":1.5,"v":0.73},{"a":237.5,"b":242.5,"r":1.36,"s":1.5,"v":0.65},{"a":242.5,"b":247.5,"r":1.36,"s":1.5,"v":0.58},{"a":247.5,"b":252.5,"r":1.36,"s":1.5,"v":0.52},{"a":252.5,"b":257.5,"r":1.36,"s":1.5,"v":0.47},{"a":257.5,"b":262.5,"r":1.36,"s":1.5,"v":0.43},{"a":262.5,"b":267.5,"r":1.36,"s":1.5,"v":0.41},{"a":267.5,"b":272.5,"r":1.36,"s":1.5,"v":0.40},{"a":272.5,"b":277.5,"r":1.36,"s":1.5,"v":0.41},{"a":277.5,"b":282.5,"r":1.36,"s":1.5,"v":0.43},{"a":282.5,"b":287.5,"r":1.36,"s":1.5,"v":0.47},{"a":287.5,"b":292.5,"r":1.36,"s":1.5,"v":0.52},{"a":292.5,"b":297.5,"r":1.36,"s":1.5,"v":0.58},{"a":297.5,"b":302.5,"r":1.36,"s":1.5,"v":0.65},{"a":302.5,"b":307.5,"r":1.36,"s":1.5,"v":0.73},{"a":307.5,"b":312.5,"r":1.36,"s":1.5,"v":0.81},{"a":312.5,"b":317.5,"r":1.36,"s":1.5,"v":0.90},{"a":317.5,"b":322.5,"r":1.36,"s":1.5,"v":0.98},{"a":322.5,"b":327.5,"r":1.36,"s":1.5,"v":1.06},{"a":327.5,"b":332.5,"r":1.36,"s":1.5,"v":1.14},{"a":332.5,"b":337.5,"r":1.36,"s":1.5,"v":1.21},{"a":337.5,"b":342.5,"r":1.36,"s":1.5,"v":1.27},{"a":342.5,"b":347.5,"r":1.36,"s":1.5,"v":1.32},{"a":347.5,"b":352.5,"r":1.36,"s":1.5,"v":1.36},{"a":352.5,"b":357.5,"r":1.36,"s":1.5,"v":1.38},
{"a":-5,"b":5,"r":1.5,"s":1.65,"v":1.10},{"a":5,"b":15,"r":1.5,"s":1.65,"v":1.07},{"a":15,"b":25,"r":1.5,"s":1.65,"v":1.01},{"a":25,"b":35,"r":1.5,"s":1.65,"v":0.91},{"a":35,"b":45,"r":1.5,"s":1.65,"v":0.79},{"a":45,"b":55,"r":1.5,"s":1.65,"v":0.66},{"a":55,"b":65,"r":1.5,"s":1.65,"v":0.54},{"a":65,"b":75,"r":1.5,"s":1.65,"v":0.44},{"a":75,"b":85,"r":1.5,"s":1.65,"v":0.38},{"a":85,"b":95,"r":1.5,"s":1.65,"v":0.36},{"a":95,"b":105,"r":1.5,"s":1.65,"v":0.38},{"a":105,"b":115,"r":1.5,"s":1.65,"v":0.44},{"a":115,"b":125,"r":1.5,"s":1.65,"v":0.54},{"a":125,"b":135,"r":1.5,"s":1.65,"v":0.66},{"a":135,"b":145,"r":1.5,"s":1.65,"v":0.79},{"a":145,"b":155,"r":1.5,"s":1.65,"v":0.91},{"a":155,"b":165,"r":1.5,"s":1.65,"v":1.01},{"a":165,"b":175,"r":1.5,"s":1.65,"v":1.07},{"a":175,"b":185,"r":1.5,"s":1.65,"v":1.10},{"a":185,"b":195,"r":1.5,"s":1.65,"v":1.07},{"a":195,"b":205,"r":1.5,"s":1.65,"v":1.01},{"a":205,"b":215,"r":1.5,"s":1.65,"v":0.91},{"a":215,"b":225,"r":1.5,"s":1.65,"v":0.79},{"a":225,"b":235,"r":1.5,"s":1.65,"v":0.66},{"a":235,"b":245,"r":1.5,"s":1.65,"v":0.54},{"a":245,"b":255,"r":1.5,"s":1.65,"v":0.44},{"a":255,"b":265,"r":1.5,"s":1.65,"v":0.38},{"a":265,"b":275,"r":1.5,"s":1.65,"v":0.36},{"a":275,"b":285,"r":1.5,"s":1.65,"v":0.38},{"a":285,"b":295,"r":1.5,"s":1.65,"v":0.44},{"a":295,"b":305,"r":1.5,"s":1.65,"v":0.54},{"a":305,"b":315,"r":1.5,"s":1.65,"v":0.66},{"a":315,"b":325,"r":1.5,"s":1.65,"v":0.79},{"a":325,"b":335,"r":1.5,"s":1.65,"v":0.91},{"a":335,"b":345,"r":1.5,"s":1.65,"v":1.01},{"a":345,"b":355,"r":1.5,"s":1.65,"v":1.07},
{"a":-5,"b":5,"r":1.65,"s":1.82,"v":0.84},{"a":5,"b":15,"r":1.65,"s":1.82,"v":0.82},{"a":15,"b":25,"r":1.65,"s":1.82,"v":0.78},{"a":25,"b":35,"r":1.65,"s":1.82,"v":0.71},{"a":35,"b":45,"r":1.65,"s":1.82,"v":0.63},{"a":45,"b":55,"r":1.65,"s":1.82,"v":0.54},{"a":55,"b":65,"r":1.65,"s":1.82,"v":0.45},{"a":65,"b":75,"r":1.65,"s":1.82,"v":0.38},{"a":75,"b":85,"r":1.65,"s":1.82,"v":0.34},{"a":85,"b":95,"r":1.65,"s":1.82,"v":0.32},{"a":95,"b":105,"r":1.65,"s":1.82,"v":0.34},{"a":105,"b":115,"r":1.65,"s":1.82,"v":0.38},{"a":115,"b":125,"r":1.65,"s":1.82,"v":0.45},{"a":125,"b":135,"r":1.65,"s":1.82,"v":0.54},{"a":135,"b":145,"r":1.65,"s":1.82,"v":0.63},{"a":145,"b":155,"r":1.65,"s":1.82,"v":0.71},{"a":155,"b":165,"r":1.65,"s":1.82,"v":0.78},{"a":165,"b":175,"r":1.65,"s":1.82,"v":0.82},{"a":175,"b":185,"r":1.65,"s":1.82,"v":0.84},{"a":185,"b":195,"r":1.65,"s":1.82,"v":0.82},{"a":195,"b":205,"r":1.65,"s":1.82,"v":0.78},{"a":205,"b":215,"r":1.65,"s":1.82,"v":0.71},{"a":215,"b":225,"r":1.65,"s":1.82,"v":0.63},{"a":225,"b":235,"r":1.65,"s":1.82,"v":0.54},{"a":235,"b":245,"r":1.65,"s":1.82,"v":0.45},{"a":245,"b":255,"r":1.65,"s":1.82,"v":0.38},{"a":255,"b":265,"r":1.65,"s":1.82,"v":0.34},{"a":265,"b":275,"r":1.65,"s":1.82,"v":0.32},{"a":275,"b":285,"r":1.65,"s":1.82,"v":0.34},{"a":285,"b":295,"r":1.65,"s":1.82,"v":0.38},{"a":295,"b":305,"r":1.65,"s":1.82,"v":0.45},{"a":305,"b":315,"r":1.65,"s":1.82,"v":0.54},{"a":315,"b":325,"r":1.65,"s":1.82,"v":0.63},{"a":325,"b":335,"r":1.65,"s":1.82,"v":0.71},{"a":335,"b":345,"r":1.65,"s":1.82,"v":0.78},{"a":345,"b":355,"r":1.65,"s":1.82,"v":0.82},
{"a":-5,"b":5,"r":1.82,"s":2.0,"v":0.60},{"a":5,"b":15,"r":1.82,"s":2.0,"v":0.59},{"a":15,"b":25,"r":1.82,"s":2.0,"v":0.56},{"a":25,"b":35,"r":1.82,"s":2.0,"v":0.52},{"a":35,"b":45,"r":1.82,"s":2.0,"v":0.47},{"a":45,"b":55,"r":1.82,"s":2.0,"v":0.42},{"a":55,"b":65,"r":1.82,"s":2.0,"v":0.37},{"a":65,"b":75,"r":1.82,"s":2.0,"v":0.33},{"a":75,"b":85,"r":1.82,"s":2.0,"v":0.30},{"a":85,"b":95,"r":1.82,"s":2.0,"v":0.29},{"a":95,"b":105,"r":1.82,"s":2.0,"v":0.30},{"a":105,"b":115,"r":1.82,"s":2.0,"v":0.33},{"a":115,"b":125,"r":1.82,"s":2.0,"v":0.37},{"a":125,"b":135,"r":1.82,"s":2.0,"v":0.42},{"a":135,"b":145,"r":1.82,"s":2.0,"v":0.47},{"a":145,"b":155,"r":1.82,"s":2.0,"v":0.52},{"a":155,"b":165,"r":1.82,"s":2.0,"v":0.56},{"a":165,"b":175,"r":1.82,"s":2.0,"v":0.59},{"a":175,"b":185,"r":1.82,"s":2.0,"v":0.60},{"a":185,"b":195,"r":1.82,"s":2.0,"v":0.59},{"a":195,"b":205,"r":1.82,"s":2.0,"v":0.56},{"a":205,"b":215,"r":1.82,"s":2.0,"v":0.52},{"a":215,"b":225,"r":1.82,"s":2.0,"v":0.47},{"a":225,"b":235,"r":1.82,"s":2.0,"v":0.42},{"a":235,"b":245,"r":1.82,"s":2.0,"v":0.37},{"a":245,"b":255,"r":1.82,"s":2.0,"v":0.33},{"a":255,"b":265,"r":1.82,"s":2.0,"v":0.30},{"a":265,"b":275,"r":1.82,"s":2.0,"v":0.29},{"a":275,"b":285,"r":1.82,"s":2.0,"v":0.30},{"a":285,"b":295,"r":1.82,"s":2.0,"v":0.33},{"a":295,"b":305,"r":1.82,"s":2.0,"v":0.37},{"a":305,"b":315,"r":1.82,"s":2.0,"v":0.42},{"a":315,"b":325,"r":1.82,"s":2.0,"v":0.47},{"a":325,"b":335,"r":1.82,"s":2.0,"v":0.52},{"a":335,"b":345,"r":1.82,"s":2.0,"v":0.56},{"a":345,"b":355,"r":1.82,"s":2.0,"v":0.59},
{"a":-5,"b":5,"r":2.0,"s":2.2,"v":0.46},{"a":5,"b":15,"r":2.0,"s":2.2,"v":0.45},{"a":15,"b":25,"r":2.0,"s":2.2,"v":0.43},{"a":25,"b":35,"r":2.0,"s":2.2,"v":0.41},{"a":35,"b":45,"r":2.0,"s":2.2,"v":0.38},{"a":45,"b":55,"r":2.0,"s":2.2,"v":0.34},{"a":55,"b":65,"r":2.0,"s":2.2,"v":0.31},{"a":65,"b":75,"r":2.0,"s":2.2,"v":0.29},{"a":75,"b":85,"r":2.0,"s":2.2,"v":0.27},{"a":85,"b":95,"r":2.0,"s":2.2,"v":0.27},{"a":95,"b":105,"r":2.0,"s":2.2,"v":0.27},{"a":105,"b":115,"r":2.0,"s":2.2,"v":0.29},{"a":115,"b":125,"r":2.0,"s":2.2,"v":0.31},{"a":125,"b":135,"r":2.0,"s":2.2,"v":0.34},{"a":135,"b":145,"r":2.0,"s":2.2,"v":0.38},{"a":145,"b":155,"r":2.0,"s":2.2,"v":0.41},{"a":155,"b":165,"r":2.0,"s":2.2,"v":0.43},{"a":165,"b":175,"r":2.0,"s":2.2,"v":0.45},{"a":175,"b":185,"r":2.0,"s":2.2,"v":0.46},{"a":185,"b":195,"r":2.0,"s":2.2,"v":0.45},{"a":195,"b":205,"r":2.0,"s":2.2,"v":0.43},{"a":205,"b":215,"r":2.0,"s":2.2,"v":0.41},{"a":215,"b":225,"r":2.0,"s":2.2,"v":0.38},{"a":225,"b":235,"r":2.0,"s":2.2,"v":0.34},{"a":235,"b":245,"r":2.0,"s":2.2,"v":0.31},{"a":245,"b":255,"r":2.0,"s":2.2,"v":0.29},{"a":255,"b":265,"r":2.0,"s":2.2,"v":0.27},{"a":265,"b":275,"r":2.0,"s":2.2,"v":0.27},{"a":275,"b":285,"r":2.0,"s":2.2,"v":0.27},{"a":285,"b":295,"r":2.0,"s":2.2,"v":0.29},{"a":295,"b":305,"r":2.0,"s":2.2,"v":0.31},{"a":305,"b":315,"r":2.0,"s":2.2,"v":0.34},{"a":315,"b":325,"r":2.0,"s":2.2,"v":0.38},{"a":325,"b":335,"r":2.0,"s":2.2,"v":0.41},{"a":335,"b":345,"r":2.0,"s":2.2,"v":0.43},{"a":345,"b":355,"r":2.0,"s":2.2,"v":0.45},
{"a":-5,"b":5,"r":2.2,"s":2.5,"v":0.33},{"a":5,"b":15,"r":2.2,"s":2.5,"v":0.33},{"a":15,"b":25,"r":2.2,"s":2.5,"v":0.32},{"a":25,"b":35,"r":2.2,"s":2.5,"v":0.31},{"a":35,"b":45,"r":2.2,"s":2.5,"v":0.29},{"a":45,"b":55,"r":2.2,"s":2.5,"v":0.28},{"a":55,"b":65,"r":2.2,"s":2.5,"v":0.26},{"a":65,"b":75,"r":2.2,"s":2.5,"v":0.25},{"a":75,"b":85,"r":2.2,"s":2.5,"v":0.24},{"a":85,"b":95,"r":2.2,"s":2.5,"v":0.24},{"a":95,"b":105,"r":2.2,"s":2.5,"v":0.24},{"a":105,"b":115,"r":2.2,"s":2.5,"v":0.25},{"a":115,"b":125,"r":2.2,"s":2.5,"v":0.26},{"a":125,"b":135,"r":2.2,"s":2.5,"v":0.28},{"a":135,"b":145,"r":2.2,"s":2.5,"v":0.29},{"a":145,"b":155,"r":2.2,"s":2.5,"v":0.31},{"a":155,"b":165,"r":2.2,"s":2.5,"v":0.32},{"a":165,"b":175,"r":2.2,"s":2.5,"v":0.33},{"a":175,"b":185,"r":2.2,"s":2.5,"v":0.33},{"a":185,"b":195,"r":2.2,"s":2.5,"v":0.33},{"a":195,"b":205,"r":2.2,"s":2.5,"v":0.32},{"a":205,"b":215,"r":2.2,"s":2.5,"v":0.31},{"a":215,"b":225,"r":2.2,"s":2.5,"v":0.29},{"a":225,"b":235,"r":2.2,"s":2.5,"v":0.28},{"a":235,"b":245,"r":2.2,"s":2.5,"v":0.26},{"a":245,"b":255,"r":2.2,"s":2.5,"v":0.25},{"a":255,"b":265,"r":2.2,"s":2.5,"v":0.24},{"a":265,"b":275,"r":2.2,"s":2.5,"v":0.24},{"a":275,"b":285,"r":2.2,"s":2.5,"v":0.24},{"a":285,"b":295,"r":2.2,"s":2.5,"v":0.25},{"a":295,"b":305,"r":2.2,"s":2.5,"v":0.26},{"a":305,"b":315,"r":2.2,"s":2.5,"v":0.28},{"a":315,"b":325,"r":2.2,"s":2.5,"v":0.29},{"a":325,"b":335,"r":2.2,"s":2.5,"v":0.31},{"a":335,"b":345,"r":2.2,"s":2.5,"v":0.32},{"a":345,"b":355,"r":2.2,"s":2.5,"v":0.33}
]
},
"hconcat":[
{"width":414,"height":453.4,
"layer":[
{"data":{"name":"pa"},"mark":{"type":"arc","strokeWidth":0.6},"encoding":{
"theta":{"field":"a","type":"quantitative","stack":null,"scale":{"type":"linear","domain":[0,360],"range":[1.5708,-4.7124],"nice":false,"zero":false}},
"theta2":{"field":"b"},
"radius":{"field":"r","type":"quantitative","scale":{"type":"linear","domain":[0,2.5],"range":[0,161],"nice":false,"zero":false}},
"radius2":{"field":"s"},
"color":{"field":"v","type":"quantitative","scale":{"type":"linear","domain":[0.12,0.45,0.78,1.11,1.44,1.77,2.1,2.43,2.76],"range":["#fff5f0","#fee0d2","#fcbba1","#fc9272","#fb6a4a","#ef3b2c","#cb181d","#a50f15","#67000d"],"interpolate":"rgb","nice":false,"zero":false},"legend":null},
"stroke":{"field":"v","type":"quantitative","scale":{"type":"linear","domain":[0.12,0.45,0.78,1.11,1.44,1.77,2.1,2.43,2.76],"range":["#fff5f0","#fee0d2","#fcbba1","#fc9272","#fb6a4a","#ef3b2c","#cb181d","#a50f15","#67000d"],"interpolate":"rgb","nice":false,"zero":false},"legend":null}}},
{"data":{"name":"grid"},"mark":{"type":"rule","color":"#222","strokeWidth":1.3,"strokeDash":[1.5,4.8]},"encoding":{
"x":{"field":"x","type":"quantitative","scale":{"domain":[-3.2143,3.2143],"nice":false,"zero":false},"axis":null},
"y":{"field":"y","type":"quantitative","scale":{"domain":[-3.5202,3.5202],"nice":false,"zero":false},"axis":null},
"x2":{"field":"x2"},"y2":{"field":"y2"}}},
{"data":{"name":"circles"},"transform":[{"filter":"datum.r == 2"}],"mark":{"type":"arc","filled":false,"stroke":"#222","strokeWidth":1.3,"strokeDash":[1.5,4.8]},"encoding":{"theta":{"datum":0},"theta2":{"datum":360},"radius":{"field":"r","type":"quantitative"}}},
{"data":{"name":"circles"},"transform":[{"filter":"datum.r == 2.5"}],"mark":{"type":"arc","filled":false,"stroke":"#000","strokeWidth":1.3},"encoding":{"theta":{"datum":0},"theta2":{"datum":360},"radius":{"field":"r","type":"quantitative"}}},
{"data":{"name":"circles"},"transform":[{"filter":"datum.r == 1"}],"mark":{"type":"arc","filled":false,"stroke":"#000","strokeWidth":2.8},"encoding":{"theta":{"datum":0},"theta2":{"datum":360},"radius":{"field":"r","type":"quantitative"}}},
{"data":{"name":"rlab"},"mark":{"type":"text","fontSize":18,"align":"left","baseline":"bottom"},"encoding":{"theta":{"datum":22.5},"radius":{"field":"r","type":"quantitative"},"text":{"field":"lab"}}},
{"data":{"name":"angles"},"mark":{"type":"text","fontSize":18,"align":{"expr":"datum.t == 0 ? 'left' : datum.t == 180 ? 'right' : 'center'"},"baseline":{"expr":"datum.t == 90 ? 'bottom' : datum.t == 270 ? 'top' : 'middle'"}},"encoding":{"theta":{"field":"t","type":"quantitative","stack":null},"radius":{"datum":2.57},"text":{"field":"lab"}}},
{"data":{"name":"heads"},"transform":[{"filter":"datum.p == 'a'"}],"mark":{"type":"text","fontSize":18,"align":"left","baseline":"alphabetic"},"encoding":{"x":{"datum":-2.97},"y":{"datum":3.085},"text":{"field":"tag"}}},
{"data":{"name":"heads"},"transform":[{"filter":"datum.p == 'a'"}],"mark":{"type":"text","fontSize":18,"align":"center","baseline":"alphabetic"},"encoding":{"x":{"datum":0},"y":{"datum":3.085},"text":{"field":"title"}}}
]},
{"width":414,"height":453.4,
"layer":[
{"data":{"name":"pb"},"mark":{"type":"arc","strokeWidth":0.6},"encoding":{
"theta":{"field":"a","type":"quantitative","stack":null,"scale":{"type":"linear","domain":[0,360],"range":[1.5708,-4.7124],"nice":false,"zero":false}},
"theta2":{"field":"b"},
"radius":{"field":"r","type":"quantitative","scale":{"type":"linear","domain":[0,2.5],"range":[0,161],"nice":false,"zero":false}},
"radius2":{"field":"s"},
"color":{"field":"v","type":"quantitative","scale":{"type":"linear","domain":[0.12,0.45,0.78,1.11,1.44,1.77,2.1,2.43,2.76],"range":["#fff5f0","#fee0d2","#fcbba1","#fc9272","#fb6a4a","#ef3b2c","#cb181d","#a50f15","#67000d"],"interpolate":"rgb","nice":false,"zero":false},"legend":null},
"stroke":{"field":"v","type":"quantitative","scale":{"type":"linear","domain":[0.12,0.45,0.78,1.11,1.44,1.77,2.1,2.43,2.76],"range":["#fff5f0","#fee0d2","#fcbba1","#fc9272","#fb6a4a","#ef3b2c","#cb181d","#a50f15","#67000d"],"interpolate":"rgb","nice":false,"zero":false},"legend":null}}},
{"data":{"name":"grid"},"mark":{"type":"rule","color":"#222","strokeWidth":1.3,"strokeDash":[1.5,4.8]},"encoding":{
"x":{"field":"x","type":"quantitative","scale":{"domain":[-3.2143,3.2143],"nice":false,"zero":false},"axis":null},
"y":{"field":"y","type":"quantitative","scale":{"domain":[-3.5202,3.5202],"nice":false,"zero":false},"axis":null},
"x2":{"field":"x2"},"y2":{"field":"y2"}}},
{"data":{"name":"circles"},"transform":[{"filter":"datum.r == 2"}],"mark":{"type":"arc","filled":false,"stroke":"#222","strokeWidth":1.3,"strokeDash":[1.5,4.8]},"encoding":{"theta":{"datum":0},"theta2":{"datum":360},"radius":{"field":"r","type":"quantitative"}}},
{"data":{"name":"circles"},"transform":[{"filter":"datum.r == 2.5"}],"mark":{"type":"arc","filled":false,"stroke":"#000","strokeWidth":1.3},"encoding":{"theta":{"datum":0},"theta2":{"datum":360},"radius":{"field":"r","type":"quantitative"}}},
{"data":{"name":"circles"},"transform":[{"filter":"datum.r == 1"}],"mark":{"type":"arc","filled":false,"stroke":"#000","strokeWidth":2.8},"encoding":{"theta":{"datum":0},"theta2":{"datum":360},"radius":{"field":"r","type":"quantitative"}}},
{"data":{"name":"rlab"},"mark":{"type":"text","fontSize":18,"align":"left","baseline":"bottom"},"encoding":{"theta":{"datum":22.5},"radius":{"field":"r","type":"quantitative"},"text":{"field":"lab"}}},
{"data":{"name":"angles"},"mark":{"type":"text","fontSize":18,"align":{"expr":"datum.t == 0 ? 'left' : datum.t == 180 ? 'right' : 'center'"},"baseline":{"expr":"datum.t == 90 ? 'bottom' : datum.t == 270 ? 'top' : 'middle'"}},"encoding":{"theta":{"field":"t","type":"quantitative","stack":null},"radius":{"datum":2.57},"text":{"field":"lab"}}},
{"data":{"name":"heads"},"transform":[{"filter":"datum.p == 'b'"}],"mark":{"type":"text","fontSize":18,"align":"left","baseline":"alphabetic"},"encoding":{"x":{"datum":-2.97},"y":{"datum":3.085},"text":{"field":"tag"}}},
{"data":{"name":"heads"},"transform":[{"filter":"datum.p == 'b'"}],"mark":{"type":"text","fontSize":18,"align":"center","baseline":"alphabetic"},"encoding":{"x":{"datum":0},"y":{"datum":3.085},"text":{"field":"title"}}}
]},
{"width":22.4,"height":454.7,
"layer":[
{"data":{"name":"cb"},"mark":{"type":"rect","strokeWidth":0.5},"encoding":{
"y":{"field":"lo","type":"quantitative","scale":{"domain":[0.12,2.76],"nice":false,"zero":false},"axis":{"orient":"right","values":[0.12,0.66,1.2,1.74,2.28],"format":".2f","tickSize":3,"tickColor":"#000","tickWidth":1,"domain":false,"grid":false,"labelFontSize":18,"labelColor":"#000","labelPadding":3,"labelFont":"DejaVu Sans","title":"Intensity [arb]","titleFont":"DejaVu Sans","titleFontSize":18,"titleFontWeight":"normal","titleColor":"#000","titleAngle":270,"titleBaseline":"top","titlePadding":8,"titleY":234}},
"y2":{"field":"hi"},
"color":{"field":"m","type":"quantitative","scale":{"type":"linear","domain":[0.12,0.45,0.78,1.11,1.44,1.77,2.1,2.43,2.76],"range":["#fff5f0","#fee0d2","#fcbba1","#fc9272","#fb6a4a","#ef3b2c","#cb181d","#a50f15","#67000d"],"interpolate":"rgb","nice":false,"zero":false},"legend":null},
"stroke":{"field":"m","type":"quantitative","scale":{"type":"linear","domain":[0.12,0.45,0.78,1.11,1.44,1.77,2.1,2.43,2.76],"range":["#fff5f0","#fee0d2","#fcbba1","#fc9272","#fb6a4a","#ef3b2c","#cb181d","#a50f15","#67000d"],"interpolate":"rgb","nice":false,"zero":false},"legend":null}}},
{"data":{"name":"cbframe"},"mark":{"type":"rect","filled":false,"stroke":"#000","strokeWidth":1.2},"encoding":{"y":{"field":"lo","type":"quantitative"},"y2":{"field":"hi"}}}
]}
]
}
